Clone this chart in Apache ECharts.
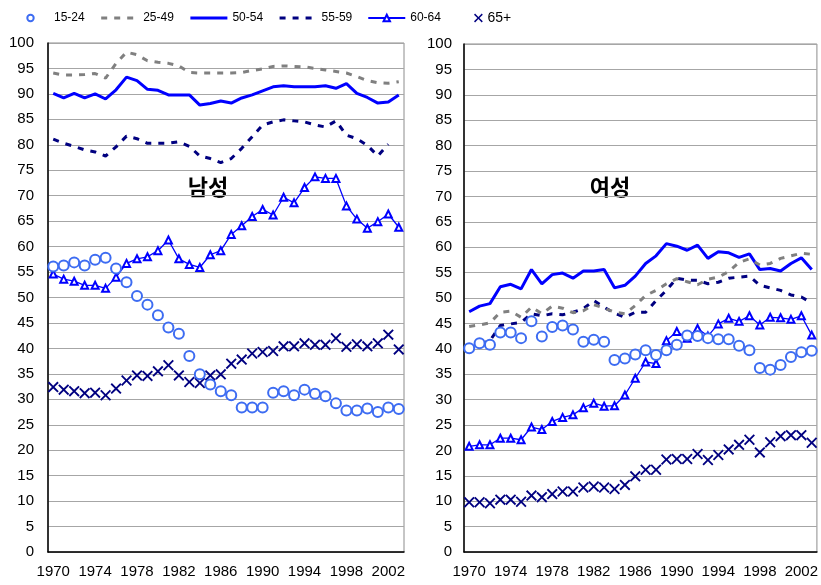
<!DOCTYPE html>
<html>
<head>
<meta charset="utf-8">
<script src="https://cdn.jsdelivr.net/npm/echarts@6.0.0/dist/echarts.min.js"></script>
<style>
  html, body { margin: 0; padding: 0; background: #fff; }
  #chart { width: 821px; height: 585px; }
</style>
</head>
<body>
<div id="chart"></div>
<script>
const years = ['1970','1971','1972','1973','1974','1975','1976','1977','1978','1979',
  '1980','1981','1982','1983','1984','1985','1986','1987','1988','1989',
  '1990','1991','1992','1993','1994','1995','1996','1997','1998','1999',
  '2000','2001','2002','2003']
const yTicks = { min: 0, max: 100, step: 5 }
const groups = ['15-24', '25-49', '50-54', '55-59', '60-64', '65+']

// 남성
const male15_24 = [56.1,56.3,56.9,56.3,57.4,57.8,55.7,53.0,50.3,48.6,46.5,44.1,42.9,38.5,34.9,32.9,31.6,30.8,28.4,28.4,28.4,31.3,31.6,30.8,31.9,31.1,30.6,29.2,27.8,27.8,28.2,27.5,28.4,28.1]
const male25_49 = [94.1,93.7,93.7,93.8,94.0,93.1,96.0,98.2,97.7,96.5,96.2,96.0,95.5,94.2,94.1,94.1,94.1,94.1,94.2,94.6,94.9,95.4,95.5,95.4,95.3,95.0,94.7,94.4,94.1,93.4,92.6,92.2,92.1,92.4]
const male50_54 = [90.1,89.2,90.1,89.2,90.0,89.0,90.8,93.3,92.6,90.9,90.7,89.8,89.8,89.8,87.8,88.1,88.6,88.2,89.2,89.8,90.6,91.4,91.6,91.4,91.4,91.4,91.6,91.1,92.0,90.1,89.3,88.2,88.4,89.8]
const male55_59 = [81.1,80.3,79.7,79.0,78.6,77.8,79.6,81.7,81.2,80.3,80.3,80.3,80.6,79.7,77.8,77.3,76.5,77.3,79.3,81.6,83.9,84.5,84.9,84.7,84.5,83.9,83.5,84.7,81.9,81.2,79.9,77.8,80.1,null]
const male60_64 = [54.6,53.6,53.2,52.4,52.4,51.8,54.0,56.7,57.6,58.0,59.2,61.3,57.6,56.5,55.9,58.4,59.2,62.4,64.1,65.9,67.3,66.2,69.7,68.6,71.6,73.7,73.4,73.4,68.0,65.4,63.6,64.9,66.4,63.8]
const male65p = [32.4,31.9,31.6,31.2,31.3,30.8,32.1,33.7,34.7,34.6,35.5,36.7,34.7,33.4,33.2,34.7,34.9,37.0,37.8,39.0,39.3,39.5,40.4,40.4,41.0,40.7,40.7,42.0,40.3,40.8,40.4,41.0,42.7,39.8]

// 여성
const female15_24 = [40.1,41.1,40.8,43.2,43.2,42.1,45.4,42.4,44.3,44.6,43.8,41.4,41.8,41.4,37.8,38.1,38.9,39.7,38.8,39.7,40.8,42.6,42.5,42.1,41.9,41.9,40.6,39.7,36.2,35.9,36.8,38.4,39.3,39.6]
const female25_49 = [44.4,44.7,45.1,47.2,47.4,46.2,48.2,46.9,48.4,48.0,47.1,47.5,48.7,48.0,47.2,46.9,48.5,50.5,51.5,52.8,53.8,53.2,52.6,53.7,54.1,55.2,57.0,57.7,56.5,56.8,57.8,58.3,58.8,58.6]
const female50_54 = [47.3,48.4,48.9,52.2,52.7,51.8,55.6,52.8,54.6,54.9,53.9,55.3,55.3,55.6,52.0,52.5,54.3,56.8,58.3,60.7,60.2,59.4,60.4,57.8,59.1,58.9,58.0,58.7,55.6,55.8,55.3,56.8,57.9,55.6]
const female55_59 = [39.8,40.9,41.6,44.6,44.9,45.2,46.9,46.5,46.9,46.7,47.2,47.9,49.5,48.2,47.0,46.2,47.2,47.2,49.5,51.5,53.9,53.5,53.5,52.8,53.1,53.9,54.1,54.3,52.5,52.0,51.5,50.6,50.2,49.0]
const female60_64 = [20.8,21.1,21.1,22.4,22.4,22.1,24.6,24.1,25.7,26.5,27.0,28.4,29.3,28.7,28.8,30.9,34.2,37.4,37.1,41.6,43.4,42.1,44.0,42.5,44.9,46.0,45.4,46.5,44.7,46.2,46.1,45.8,46.5,42.7]
const female65p = [9.8,9.8,9.6,10.3,10.3,9.9,11.1,10.8,11.4,11.9,11.9,12.7,12.9,12.7,12.4,13.2,14.9,16.2,16.2,18.2,18.3,18.3,19.3,18.1,19.1,20.2,21.1,22.1,19.6,21.6,22.8,23.0,23.0,21.5]

const panels = [
  { title: '남성', data: [male15_24, male25_49, male50_54, male55_59, male60_64, male65p] },
  { title: '여성', data: [female15_24, female25_49, female50_54, female55_59, female60_64, female65p] },
]

const crossPath = 'path://M0,1.2L1.2,0L5,3.8L8.8,0L10,1.2L6.2,5L10,8.8L8.8,10L5,6.2L1.2,10L0,8.8L3.8,5Z'
const font = 'Liberation Sans, Arial, sans-serif'

// look of each age group
const looks = [
  { color: '#3d6cf2', symbol: 'emptyCircle', symbolSize: 10, line: { width: 0, opacity: 0 } },
  { color: '#808080', symbol: 'none', line: { width: 3, type: [6, 7] } },
  { color: '#0000ff', symbol: 'none', line: { width: 3 } },
  { color: '#000080', symbol: 'none', line: { width: 3, type: [6, 7] } },
  { color: '#0000ff', symbol: 'emptyTriangle', symbolSize: 7, line: { width: 1.3 } },
  { color: '#000080', symbol: crossPath, symbolSize: 11, line: { width: 0, opacity: 0 } },
]

const grids = [
  { left: 48, top: 43, width: 356, height: 509 },
  { left: 464, top: 44, width: 355, height: 508 },
]

const series = []
panels.forEach((p, gi) => {
  p.data.forEach((values, si) => {
    const look = looks[si]
    series.push({
      type: 'line',
      name: groups[si],
      xAxisIndex: gi,
      yAxisIndex: gi,
      data: values,
      symbol: look.symbol,
      symbolSize: look.symbolSize || 0,
      showSymbol: look.symbol !== 'none',
      showAllSymbol: true,
      connectNulls: false,
      itemStyle: { color: look.color, borderWidth: look.symbol === crossPath ? 0 : 1.4 },
      lineStyle: Object.assign({ color: look.color }, look.line),
      emphasis: { disabled: true },
      z: 10 - si,
    })
  })
})

// line-only groups get no marker in the legend
const legendItems = groups.slice(0, 5).map((name, i) => {
  const look = looks[i]
  if (look.symbol !== 'none') return { name }
  return {
    name,
    itemStyle: { opacity: 0, color: 'rgba(0,0,0,0)' },
    lineStyle: { width: look.line.width, type: look.line.type || 'solid', color: look.color },
  }
})

const chart = echarts.init(document.getElementById('chart'))
chart.setOption({
  animation: false,
  backgroundColor: '#fff',
  textStyle: { fontFamily: font },
  legend: [
    {
      data: legendItems,
      left: 7, top: 7,
      itemWidth: 37, itemHeight: 8, itemGap: 15,
      selectedMode: false,
      textStyle: { fontSize: 12, color: '#000', fontFamily: font },
    },
    {
      data: ['65+'],
      left: 469, top: 6,
      itemWidth: 8, itemHeight: 11, itemGap: 0,
      selectedMode: false,
      textStyle: { fontSize: 14, color: '#000', fontFamily: font },
    },
  ],
  grid: grids.map(g => Object.assign({ show: true, borderColor: '#8c8c8c', borderWidth: 1 }, g)),
  xAxis: grids.map((g, i) => ({
    type: 'category',
    gridIndex: i,
    data: years,
    boundaryGap: true,
    axisLine: { lineStyle: { color: '#000', width: 1.5 } },
    axisTick: { interval: 3, length: 5, lineStyle: { color: '#000' } },
    axisLabel: { interval: 3, fontSize: 15, color: '#000', margin: 12, fontFamily: font },
    splitLine: { show: false },
  })),
  yAxis: grids.map((g, i) => ({
    type: 'value',
    gridIndex: i,
    min: yTicks.min, max: yTicks.max, interval: yTicks.step,
    axisLine: { show: true, lineStyle: { color: '#000', width: 1.5 } },
    axisTick: { show: false },
    axisLabel: { fontSize: 15, color: '#000', margin: i === 0 ? 14 : 12, fontFamily: font },
    splitLine: { lineStyle: { color: '#a6a6a6', width: 1 } },
  })),
  graphic: [
    { type: 'text', x: 208, y: 187, style: { text: panels[0].title, textAlign: 'center', textVerticalAlign: 'middle', font: 'bold 22px "Noto Sans CJK KR"', fill: '#000' } },
    { type: 'text', x: 610, y: 187, style: { text: panels[1].title, textAlign: 'center', textVerticalAlign: 'middle', font: 'bold 22px "Noto Sans CJK KR"', fill: '#000' } },
  ],
  series: series,
})
</script>
</body>
</html>
